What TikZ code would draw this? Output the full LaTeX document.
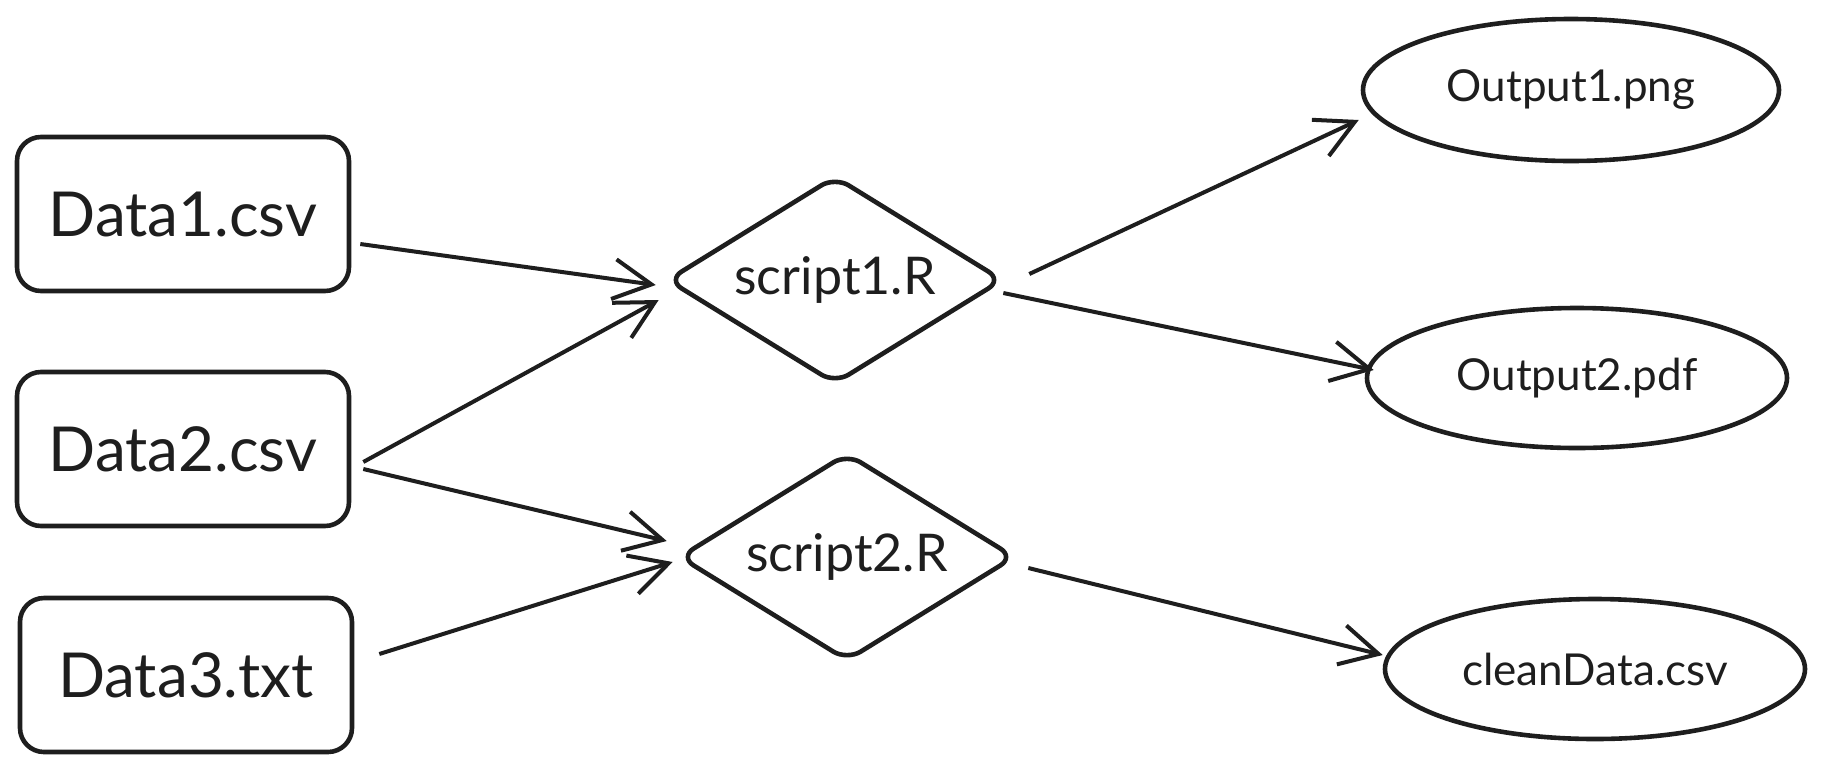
\documentclass[tikz,border=0pt]{standalone}
\usepackage{fontspec}
\setmainfont{Lato}
\usetikzlibrary{shapes.geometric,arrows.meta}
\definecolor{ink}{HTML}{1E1E1E}
\begin{document}
\begin{tikzpicture}[x=0.5pt,y=-0.5pt,
  datafile/.style={draw=ink, line width=2.3pt, rounded corners=12pt, minimum width=166pt, minimum height=77pt, inner sep=0pt, text=ink, font=\fontsize{31}{34}\selectfont},
  scriptnode/.style={diamond, shape aspect=1.65, draw=ink, line width=2.3pt, rounded corners=8pt, minimum width=168pt, minimum height=104pt, inner sep=0pt, text=ink, font=\fontsize{26}{30}\selectfont},
  outfile/.style={ellipse, draw=ink, line width=2.3pt, minimum width=208pt, minimum height=71pt, inner sep=0pt, text=ink, font=\fontsize{22}{25}\selectfont},
  flow/.style={draw=ink, line width=2pt, -{Straight Barb[length=19pt,width=20pt,line width=2pt]}}
]
\useasboundingbox (0,0) rectangle (1825,772);

\node[datafile] (d1) at (183,214) {Data1.csv};
\node[datafile] (d2) at (183,449) {Data2.csv};
\node[datafile] (d3) at (186,675) {Data3.txt};

\node[scriptnode] (s1) at (835,280) {script1.R};
\node[scriptnode] (s2) at (847,557) {script2.R};

\node[outfile] (o1) at (1571,90) {Output1.png};
\node[outfile, minimum width=210pt, minimum height=70pt] (o2) at (1577,378) {Output2.pdf};
\node[outfile, minimum width=210pt, minimum height=70pt] (o3) at (1595,669) {cleanData.csv};

\draw[flow] ([shift={(9,30)}]d1.east) -- ([shift={(-9,5)}]s1.west);
\draw[flow] ([shift={(12,13)}]d2.east) -- ([shift={(-6,20)}]s1.west);
\draw[flow] ([shift={(12,20)}]d2.east) -- ([shift={(-10,-16)}]s2.west);
\draw[flow] ([shift={(25,-21)}]d3.east) -- ([shift={(-4,5)}]s2.west);
\draw[flow] ([shift={(24,-6)}]s1.east) -- ([shift={(-2,30)}]o1.west);
\draw[flow] ([shift={(-2,13)}]s1.east) -- ([shift={(9,-8)}]o2.west);
\draw[flow] ([shift={(11,11)}]s2.east) -- ([shift={(0,-14)}]o3.west);
\end{tikzpicture}
\end{document}
